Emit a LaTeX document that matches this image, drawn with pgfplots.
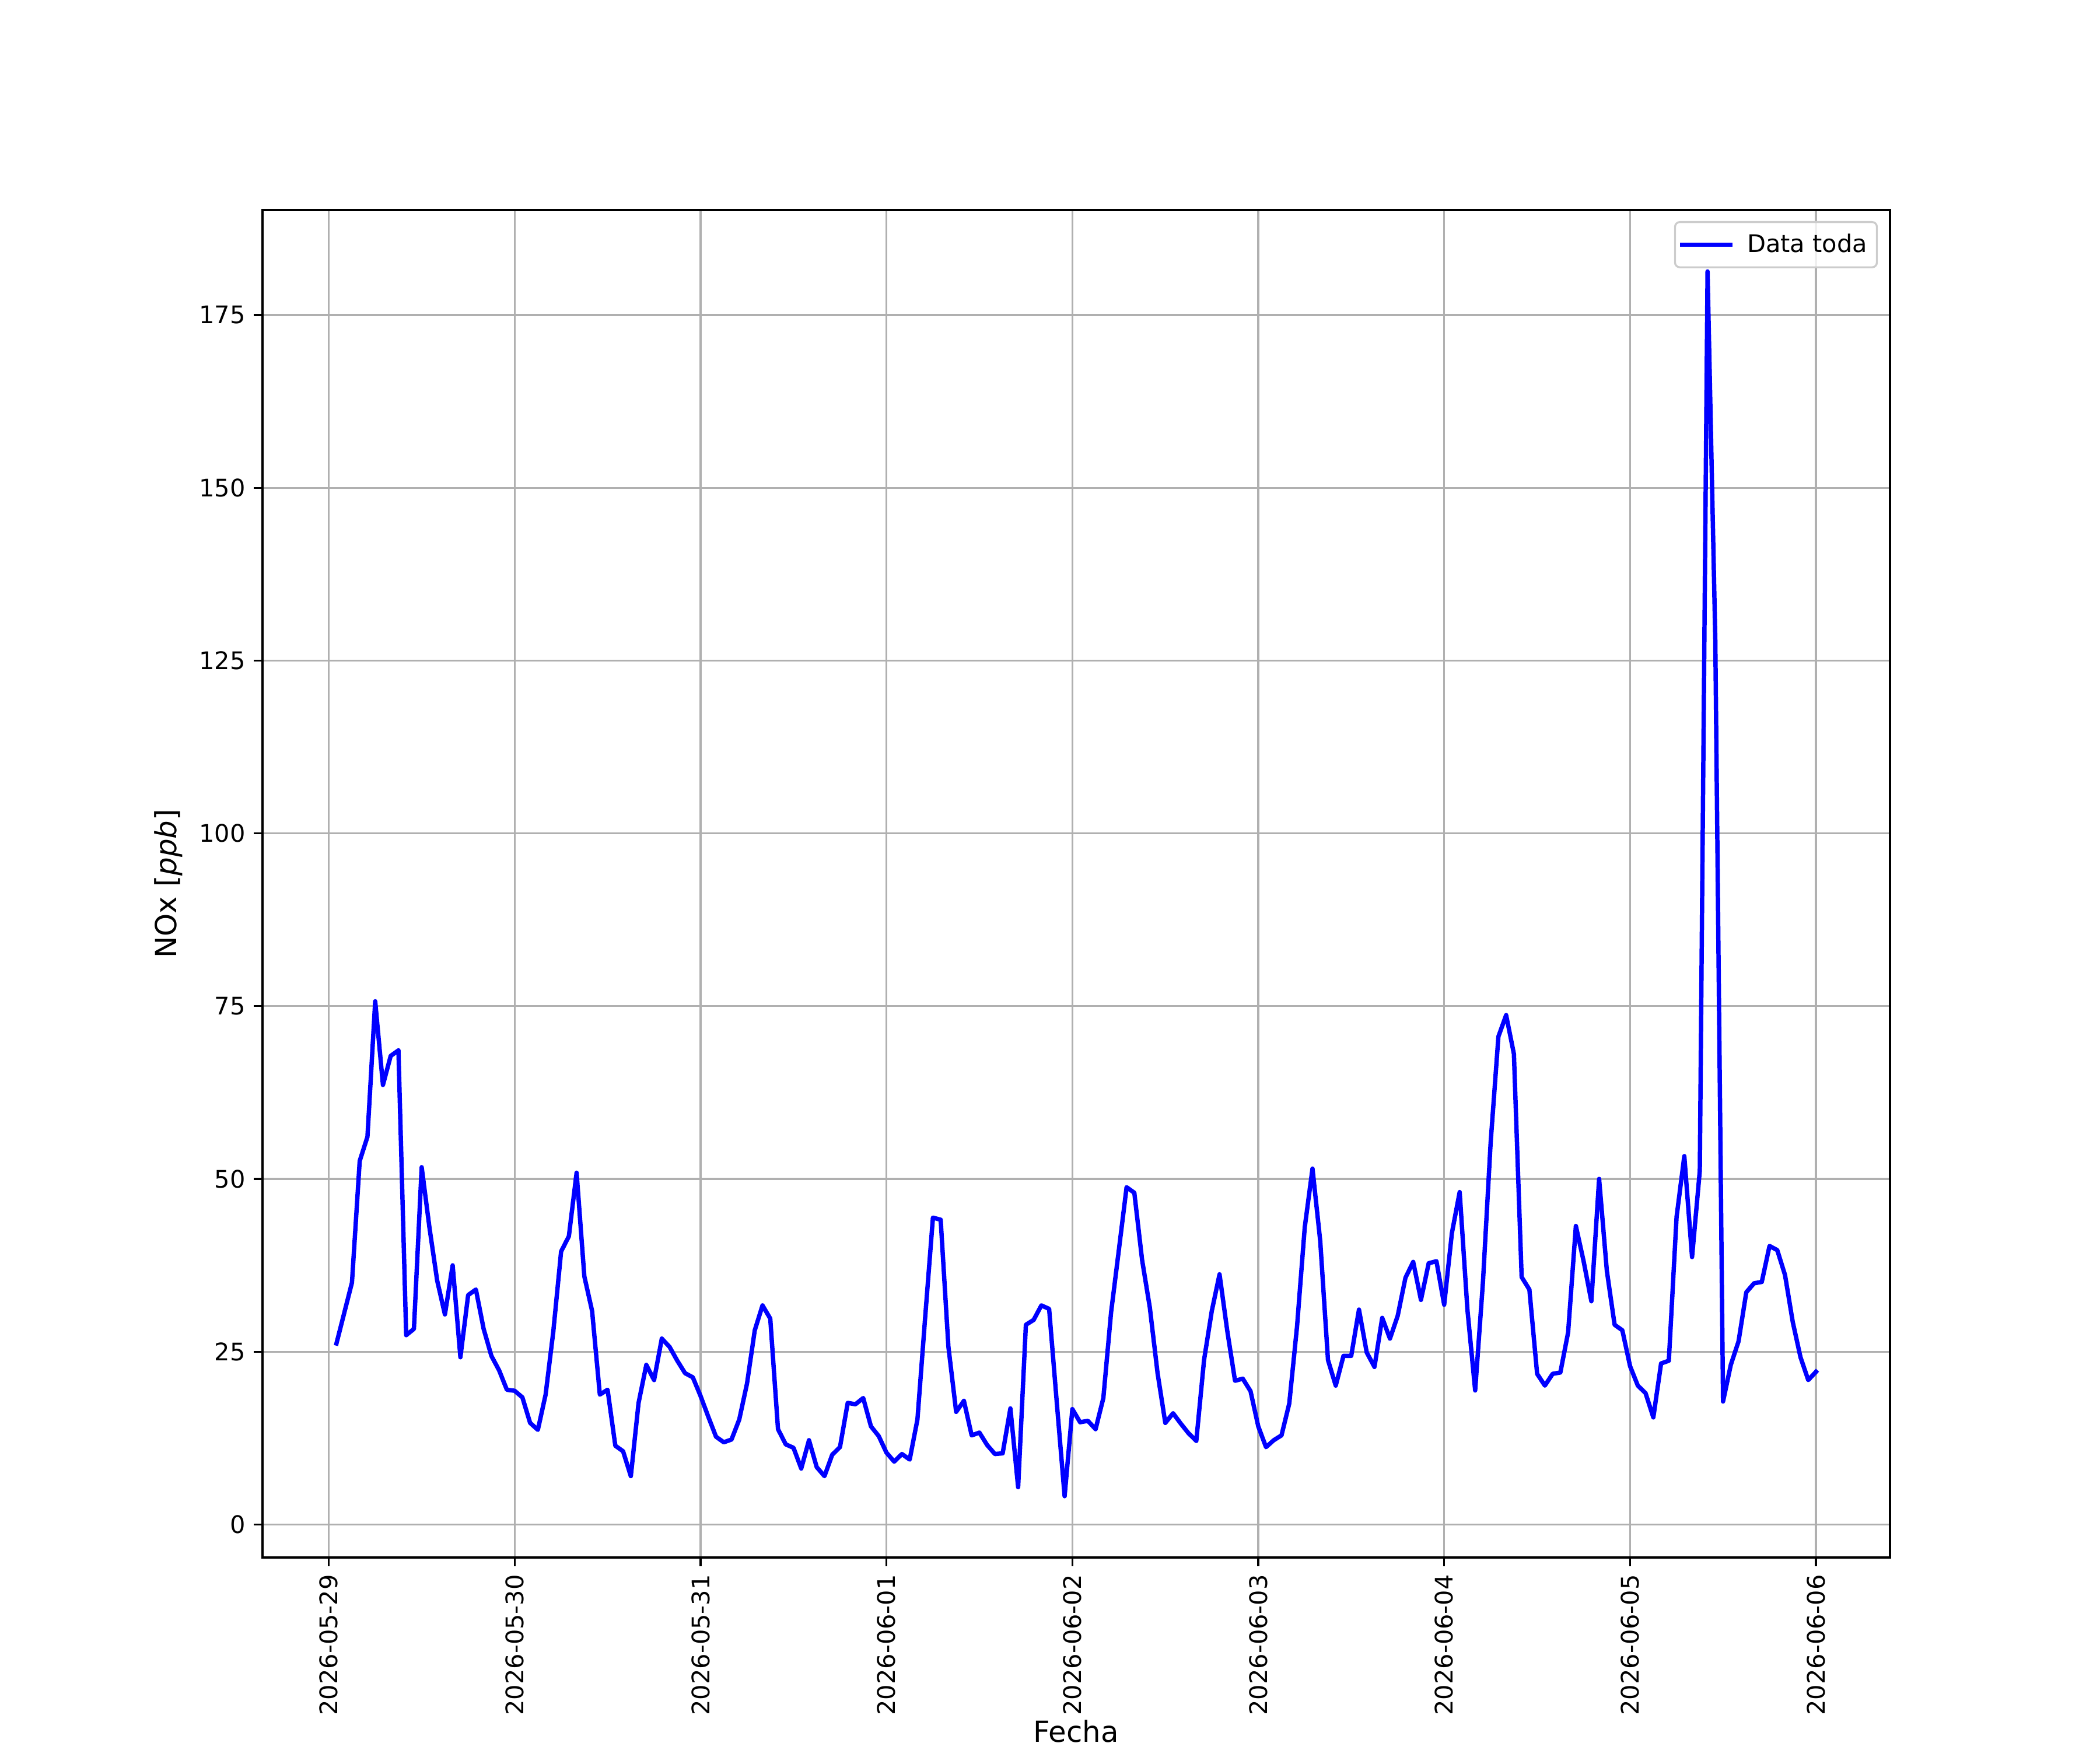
\documentclass[border=0pt]{standalone}
\usepackage{fontspec}
\setmainfont{DejaVu Sans}
\usepackage{pgfplots}
\usepackage{pgfplotstable}
\pgfplotsset{compat=1.18}
\definecolor{gridgray}{HTML}{B0B0B0}
\definecolor{legendgray}{HTML}{CCCCCC}
\pgfplotstableread{
h v
1 26.2
2 30.6
3 35.0
4 52.6
5 56.1
6 75.7
7 63.6
8 67.8
9 68.6
10 27.4
11 28.3
12 51.7
13 43.0
14 35.3
15 30.4
16 37.5
17 24.2
18 33.2
19 34.0
20 28.3
21 24.4
22 22.3
23 19.5
24 19.35
25 18.4
26 14.7
27 13.7
28 18.8
29 28.0
30 39.5
31 41.7
32 50.9
33 35.9
34 30.9
35 18.8
36 19.5
37 11.4
38 10.6
39 7.0
40 17.6
41 23.1
42 20.9
43 26.9
44 25.7
45 23.7
46 21.9
47 21.3
48 18.6
49 15.6
50 12.7
51 11.9
52 12.3
53 15.2
54 20.4
55 28.1
56 31.7
57 29.8
58 13.8
59 11.6
60 11.1
61 8.1
62 12.2
63 8.3
64 7.0
65 10.1
66 11.2
67 17.6
68 17.4
69 18.3
70 14.2
71 12.8
72 10.4
73 9.1
74 10.2
75 9.4
76 15.2
77 30.0
78 44.4
79 44.1
80 25.7
81 16.3
82 17.9
83 12.9
84 13.3
85 11.5
86 10.2
87 10.3
88 16.8
89 5.4
90 28.9
91 29.6
92 31.7
93 31.2
94 17.5
95 4.1
96 16.7
97 14.8
98 15.0
99 13.8
100 18.3
101 30.7
102 39.7
103 48.8
104 48.0
105 38.3
106 31.4
107 21.9
108 14.7
109 16.1
110 14.6
111 13.2
112 12.1
113 23.8
114 30.9
115 36.2
116 28.0
117 20.8
118 21.1
119 19.3
120 14.2
121 11.2
122 12.2
123 12.9
124 17.5
125 28.6
126 43.0
127 51.5
128 41.0
129 23.8
130 20.1
131 24.4
132 24.4
133 31.1
134 24.9
135 22.8
136 29.9
137 26.9
138 30.2
139 35.7
140 38.0
141 32.5
142 37.8
143 38.1
144 31.8
145 42.2
146 48.1
147 31.1
148 19.4
149 35.0
150 55.3
151 70.6
152 73.7
153 68.1
154 35.8
155 34.0
156 21.8
157 20.1
158 21.8
159 22.0
160 27.8
161 43.2
162 38.1
163 32.3
164 50.0
165 36.7
166 28.9
167 28.1
168 22.9
169 20.1
170 19.0
171 15.5
172 23.3
173 23.7
174 44.5
175 53.3
176 38.7
177 51.2
178 181.3
179 128.0
180 17.8
181 23.1
182 26.5
183 33.6
184 34.9
185 35.1
186 40.3
187 39.7
188 36.1
189 29.3
190 24.2
191 20.9
192 22.1
}\noxdata
\begin{document}
\begin{tikzpicture}
\useasboundingbox (0,0) rectangle (867.24pt,722.7pt);
\begin{axis}[
  at={(108.4pt,79.5pt)}, anchor=south west,
  scale only axis, width=672.1pt, height=556.5pt,
  xmin=-8.55, xmax=201.55, ymin=-4.77, ymax=190.2,
  xtick={0,24,...,192},
  xticklabels={2026-05-29,2026-05-30,2026-05-31,2026-06-01,2026-06-02,2026-06-03,2026-06-04,2026-06-05,2026-06-06},
  xticklabel style={rotate=90, anchor=east, font=\fontsize{10}{12}\selectfont},
  ytick={0,25,...,175},
  yticklabel style={font=\fontsize{10}{12}\selectfont},
  /pgf/number format/assume math mode=true,
  tick pos=left, tick align=outside, major tick length=3.5pt,
  every tick/.style={black, line width=0.8pt},
  axis line style={line width=0.8pt},
  grid=major, major grid style={gridgray, line width=0.8pt},
  xlabel={Fecha}, ylabel={NOx [\textit{ppb}]},
  label style={font=\fontsize{12}{14}\selectfont},
  xlabel style={yshift=5pt},
  legend style={at={(1,1)}, anchor=north east, xshift=-5pt, yshift=-4.6pt,
    draw=legendgray, line width=0.8pt, rounded corners=2pt,
    fill=white, fill opacity=0.8, draw opacity=1, text opacity=1,
    font=\fontsize{10}{12}\selectfont, inner xsep=2pt, inner ysep=2.8pt,
    /tikz/every odd column/.append style={column sep=4pt}},
  legend cell align=left,
  legend image code/.code={\draw[#1, line cap=rect] (0pt,0pt) -- (20pt,0pt);},
]
\addplot[blue, line width=1.8pt, line join=round, line cap=rect] table[x=h, y=v] {\noxdata};
\addlegendentry{Data toda}
\end{axis}
\end{tikzpicture}
\end{document}
